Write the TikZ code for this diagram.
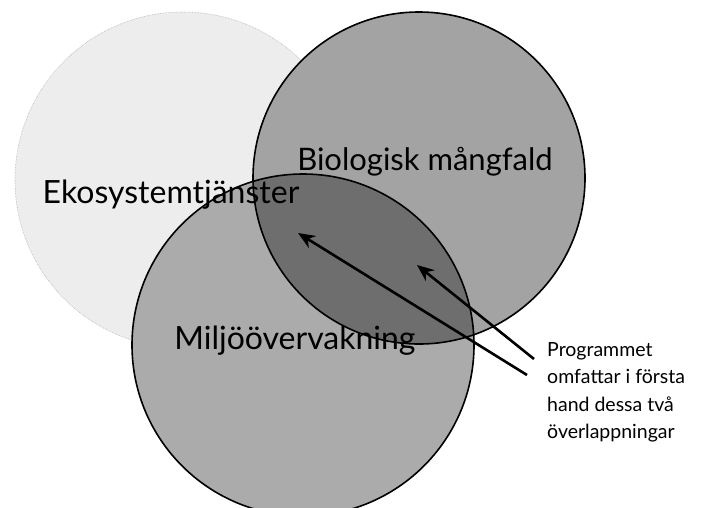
\documentclass[tikz,border=0pt]{standalone}
\usepackage{fontspec}
\setmainfont{Lato}
\usetikzlibrary{arrows.meta}
\definecolor{ekofill}{gray}{0.93}
\definecolor{biofill}{gray}{0.64}
\definecolor{miljofill}{gray}{0.67}
\definecolor{lensfill}{gray}{0.43}
\tikzset{
  label/.style={font=\fontsize{31}{36}\selectfont, inner sep=0pt, anchor=base},
  biglabel/.style={label, font=\fontsize{32}{36}\selectfont},
  note/.style={font=\fontsize{19.5}{27.5}\selectfont, align=left, inner sep=0pt, anchor=north west},
  pointer/.style={line width=2.6pt, -{Stealth[length=17pt,width=14pt]}},
  ring/.style={line width=1.6pt, draw=black}
}
\begin{document}
\begin{tikzpicture}[x=1pt,y=-1pt]
\useasboundingbox[fill=white] (0,0) rectangle (704,507);
% circles
\fill[ekofill] (183,180) circle[radius=168pt];
\draw[gray!60, line width=0.6pt, densely dotted] (183,180) circle[radius=168pt];
\fill[miljofill] (303,345) circle[radius=171pt];
\fill[biofill] (419,178) circle[radius=166pt];
\begin{scope}
  \clip (419,178) circle[radius=166pt];
  \fill[lensfill] (303,345) circle[radius=171pt];
\end{scope}
\draw[ring] (419,178) circle[radius=166pt];
\draw[ring] (303,345) circle[radius=171pt];
% labels
\node[biglabel] (eko) at (171,203) {Ekosystemtjänster};
\node[label] (bio) at (425,170) {Biologisk mångfald};
\node[biglabel] (miljo) at (295,349) {Miljöövervakning};
\node[note] (prog) at (547,342) {Programmet\\omfattar i första\\hand dessa två\\överlappningar};
% arrows
\coordinate (tailA) at (527,375);
\coordinate (tipA) at (298,233);
\coordinate (tailB) at (534,359);
\coordinate (tipB) at (417,265);
\draw[pointer] (tailA) -- (tipA);
\draw[pointer] (tailB) -- (tipB);
\end{tikzpicture}
\end{document}
